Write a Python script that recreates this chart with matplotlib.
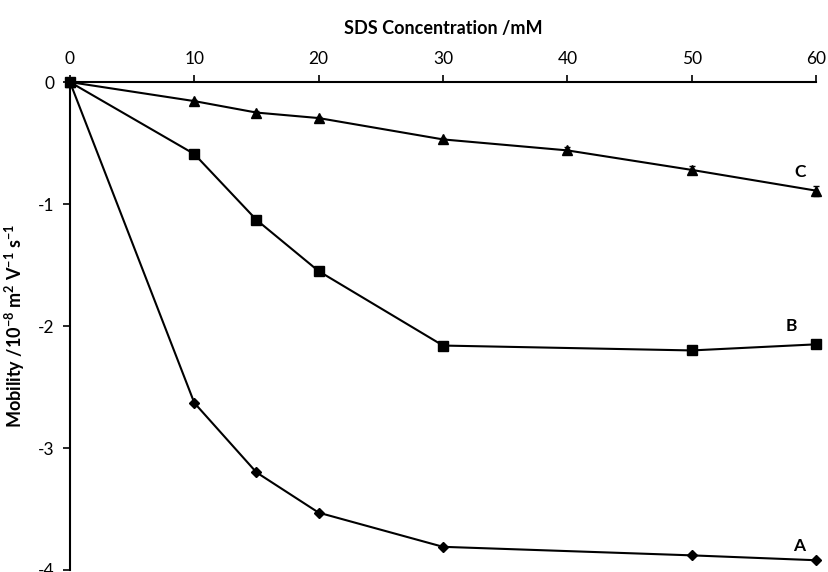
import matplotlib
matplotlib.use("Agg")
import matplotlib.pyplot as plt

plt.rcParams['font.family'] = ['Lato', 'DejaVu Sans']
plt.rcParams['mathtext.default'] = 'regular'

conc_A = [0, 10, 15, 20, 30, 50, 60]
mob_A = [0, -2.63, -3.20, -3.53, -3.81, -3.88, -3.92]
conc_B = [0, 10, 15, 20, 30, 50, 60]
mob_B = [0, -0.59, -1.13, -1.55, -2.16, -2.20, -2.15]
conc_C = [0, 10, 15, 20, 30, 40, 50, 60]
mob_C = [0, -0.156, -0.25, -0.295, -0.47, -0.56, -0.72, -0.89]
err_C = [0, 0.01, 0.01, 0.01, 0.015, 0.03, 0.035, 0.04]
xticks = [0, 10, 20, 30, 40, 50, 60]
yticks = [0, -1, -2, -3, -4]

fig = plt.figure(figsize=(8.29, 5.72), dpi=100)
ax = fig.add_axes([0.0844, 0.0035, 0.9, 0.853])

ax.plot(conc_A, mob_A, color='black', lw=1.5, marker='D', ms=5, zorder=3)
ax.plot(conc_B, mob_B, color='black', lw=1.5, marker='s', ms=7, zorder=3)
ax.errorbar(conc_C, mob_C, yerr=err_C, color='black', lw=1.5, marker='^', ms=6.5,
            capsize=2, elinewidth=1, zorder=3)

ax.text(58.6, -3.8, 'A', fontsize=12.5, fontweight='bold', ha='center', va='center')
ax.text(58.0, -2.0, 'B', fontsize=12.5, fontweight='bold', ha='center', va='center')
ax.text(58.7, -0.735, 'C', fontsize=12.5, fontweight='bold', ha='center', va='center')

ax.set_xlim(0, 60)
ax.set_ylim(-4, 0)
ax.set_xticks(xticks)
ax.set_yticks(yticks)
ax.set_yticklabels([str(v) for v in yticks])
ax.xaxis.tick_top()
ax.xaxis.set_label_position('top')
ax.spines['bottom'].set_visible(False)
ax.spines['right'].set_visible(False)
ax.spines['top'].set_linewidth(1.5)
ax.spines['left'].set_linewidth(1.5)
ax.tick_params(axis='both', direction='out', length=5, width=1.2, labelsize=12.5, pad=6)
ax.tick_params(axis='x', pad=6)

ax.set_xlabel('SDS Concentration /mM', fontsize=13, fontweight='bold', labelpad=12)
ax.set_ylabel('Mobility /10$^{-8}$ m$^{2}$ V$^{-1}$ s$^{-1}$', fontsize=13, fontweight='bold')
ax.yaxis.set_label_coords(-0.057, 0.5)

for ln in ax.lines:
    ln.set_clip_on(False)

fig.savefig('out.png', dpi=100)
